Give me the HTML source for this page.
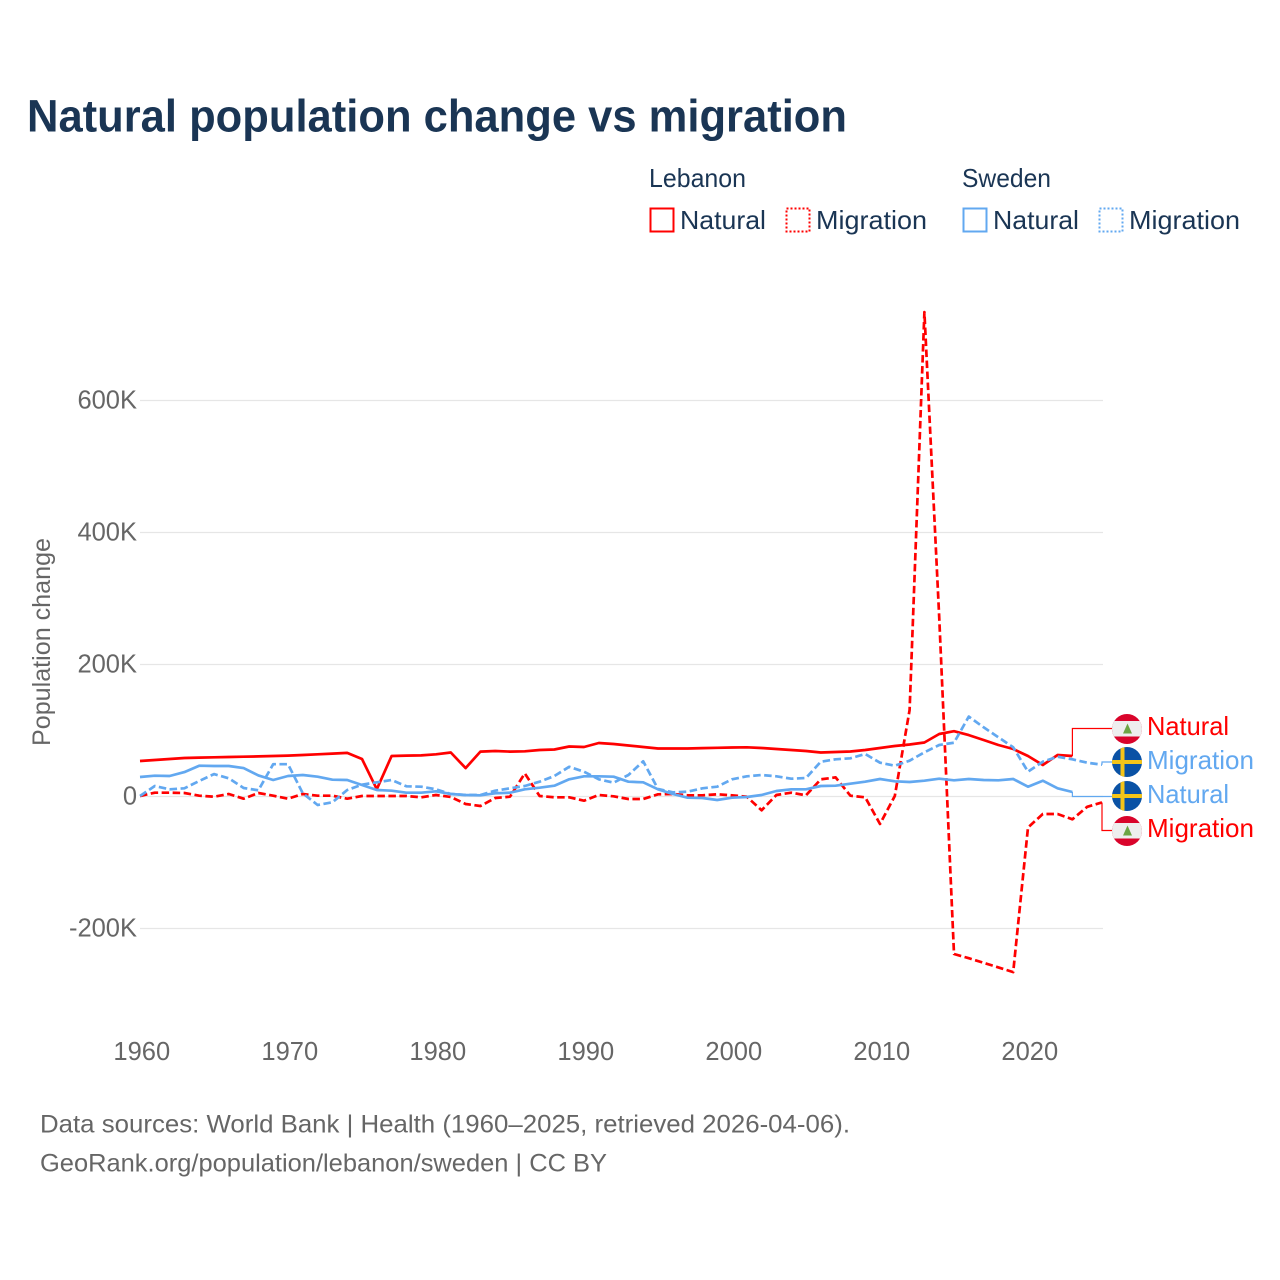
<!DOCTYPE html>
<html>
<head>
<meta charset="utf-8">
<title>Natural population change vs migration</title>
<style>
html,body{margin:0;padding:0;background:#fff;width:1280px;height:1280px;overflow:hidden}
svg{display:block}
text{font-family:"Liberation Sans",sans-serif}
</style>
</head>
<body>
<svg id="chart" xmlns="http://www.w3.org/2000/svg" width="1280" height="1280" viewBox="0 0 1280 1280">
<defs>
<clipPath id="clip-leb-1"><circle cx="1127" cy="729" r="15"/></clipPath>
<clipPath id="clip-swe-1"><circle cx="1127" cy="762" r="15"/></clipPath>
<clipPath id="clip-swe-2"><circle cx="1127" cy="796" r="15"/></clipPath>
<clipPath id="clip-leb-2"><circle cx="1127" cy="831" r="15"/></clipPath>
</defs>
<rect width="1280" height="1280" fill="#fff"/>
<text x="27" y="131.5" font-size="45" font-weight="700" fill="#1a3554" textLength="820" lengthAdjust="spacingAndGlyphs">Natural population change vs migration</text>

<g font-size="26" fill="#1a3554">
<text x="649" y="187" textLength="97" lengthAdjust="spacingAndGlyphs">Lebanon</text>
<text x="962" y="187" textLength="89" lengthAdjust="spacingAndGlyphs">Sweden</text>
<rect x="650.5" y="208.5" width="23" height="23" fill="none" stroke="#ff0000" stroke-width="2"/>
<text x="680" y="229" textLength="86" lengthAdjust="spacingAndGlyphs">Natural</text>
<rect x="786.5" y="208.5" width="23" height="23" fill="none" stroke="#ff0000" stroke-width="2" stroke-dasharray="2 2"/>
<text x="816" y="229" textLength="111" lengthAdjust="spacingAndGlyphs">Migration</text>
<rect x="963.5" y="208.5" width="23" height="23" fill="none" stroke="#62a8f0" stroke-width="2"/>
<text x="993" y="229" textLength="86" lengthAdjust="spacingAndGlyphs">Natural</text>
<rect x="1099.5" y="208.5" width="23" height="23" fill="none" stroke="#62a8f0" stroke-width="2" stroke-dasharray="2 2"/>
<text x="1129" y="229" textLength="111" lengthAdjust="spacingAndGlyphs">Migration</text>
</g>

<g id="grid"></g>
<g id="yticks"></g>
<g id="xticks"></g>
<text transform="translate(50,642) rotate(-90)" text-anchor="middle" font-size="25" fill="#666" textLength="208" lengthAdjust="spacingAndGlyphs">Population change</text>
<g id="leaders"></g>
<g id="series"></g>

<g clip-path="url(#clip-leb-1)">
<rect x="1112" y="714" width="30" height="30" fill="#d9042b"/><rect x="1112" y="721" width="30" height="15.5" fill="#eeeeee"/><path d="M1127.5 723.5l4.5 10h-9z" fill="#6da544"/>
</g>
<g clip-path="url(#clip-swe-1)">
<rect x="1112" y="747" width="30" height="30" fill="#0a52a5"/><rect x="1120.5" y="747" width="4" height="30" fill="#f5c518"/><rect x="1112" y="760" width="30" height="4" fill="#f5c518"/>
</g>
<g clip-path="url(#clip-swe-2)">
<rect x="1112" y="781" width="30" height="30" fill="#0a52a5"/><rect x="1120.5" y="781" width="4" height="30" fill="#f5c518"/><rect x="1112" y="794" width="30" height="4" fill="#f5c518"/>
</g>
<g clip-path="url(#clip-leb-2)">
<rect x="1112" y="816" width="30" height="30" fill="#d9042b"/><rect x="1112" y="823" width="30" height="15.5" fill="#eeeeee"/><path d="M1127.5 825.5l4.5 10h-9z" fill="#6da544"/>
</g>

<text x="1147" y="735" font-size="26" fill="#ff0000" textLength="82" lengthAdjust="spacingAndGlyphs">Natural</text>
<text x="1147" y="769" font-size="26" fill="#62a8f0" textLength="107" lengthAdjust="spacingAndGlyphs">Migration</text>
<text x="1147" y="803" font-size="26" fill="#62a8f0" textLength="82" lengthAdjust="spacingAndGlyphs">Natural</text>
<text x="1147" y="837" font-size="26" fill="#ff0000" textLength="107" lengthAdjust="spacingAndGlyphs">Migration</text>

<text x="40" y="1132.5" font-size="25" fill="#666" textLength="810" lengthAdjust="spacingAndGlyphs">Data sources: World Bank | Health (1960–2025, retrieved 2026-04-06).</text>
<text x="40" y="1171.5" font-size="25" fill="#666" textLength="567" lengthAdjust="spacingAndGlyphs">GeoRank.org/population/lebanon/sweden | CC BY</text>
</svg>
<script>
const startYear = 1960;
const xTickYears = [1960, 1970, 1980, 1990, 2000, 2010, 2020];
const yTickValues = [-200, 0, 200, 400, 600];
const yTickLabels = ['-200K', '0', '200K', '400K', '600K'];
const lebanonNatural = [53.8,55.3,56.8,58.3,59,59.4,59.8,60.3,60.8,61.4,62,62.9,64,65,66,56.8,11,61.4,62,62.2,64,66.7,43,68,68.9,68,68.5,70.5,71.2,75.8,75,81,79.5,77.3,75,72.7,72.7,72.7,73.4,73.8,74.2,74.5,73.5,72,70.5,69,66.7,67.4,68.2,70.5,73.5,76.5,78.8,81.8,94.7,99,93,85.6,78,72,61.4,47.7,62.9,61.4];
const lebanonMigration = [0.8,5.8,5.8,5.3,1.2,-0.3,3.8,-3.3,5.3,1.2,-3.3,3.8,1.2,1.2,-3.3,0.8,0.8,0.8,0.8,-1.2,2.3,-0.8,-11.4,-14.4,-2.3,-0.3,35,0.8,-1.2,-1.2,-6.4,2.3,0.3,-3.8,-3.8,3.3,3.8,1.8,1.8,3.3,1.8,-0.3,-20.9,2.3,5.8,1.8,26,29,1.2,-1.2,-41.7,0.8,131,734,272,-238.6,-245,-252,-259,-266,-47,-26.5,-26.5,-34.5,-15.6,-9];
const swedenNatural = [29.5,31.5,31,37,46.7,46.2,46.2,43,32,25,31,32.6,30,25.5,25,17.4,9.8,8.8,5.8,5.8,7.9,3.8,2.3,1.8,4.8,5.8,10.9,13.3,16.4,26,30.6,30.6,30,22.4,21.5,10.9,3.8,-1.8,-2.3,-5.3,-1.8,-0.8,2.3,8.3,10.9,10.9,15.9,16.4,19.4,22.4,26.5,23,22,24,27,24.5,26.5,25,24.5,26.5,14.8,24,12.4,6.8];
const swedenMigration = [0.8,15.9,10.9,12.4,23.5,34,27.6,12.9,9.4,49,49,4.8,-12.9,-8.8,9.8,17.9,21.5,25,15.5,14.8,10.9,3.8,2.3,2.3,8.8,12.4,15.9,22.4,31,45,37.6,26,20.9,32.6,53.3,11.4,6.4,7.3,12.4,14.8,26,30.6,32.6,30.6,27,28,52.7,56.4,57.9,64.4,51.2,46.7,54.2,67,78,81.5,121,104.8,89.7,74.5,37.6,52.7,60.3,56.4,51.2,48.2];

const SVGNS = 'http://www.w3.org/2000/svg';
const RED = '#ff0000';
const BLUE = '#62a8f0';
function xScale(year) { return 140 + (year - startYear) * 14.8; }
function yScale(value) { return 796.5 - value * 0.66; }
function linePath(values) {
  return values.map(function (v, i) {
    return (i ? 'L' : 'M') + xScale(startYear + i).toFixed(1) + ' ' + yScale(v).toFixed(1);
  }).join('');
}

const gridGroup = document.getElementById('grid');
const yGroup = document.getElementById('yticks');
yTickValues.forEach(function (v, i) {
  const ln = document.createElementNS(SVGNS, 'line');
  
  
  ln.setAttribute('x1', 140);
  ln.setAttribute('x2', 1103);
  ln.setAttribute('y1', yScale(v));
  ln.setAttribute('y2', yScale(v));
  ln.setAttribute('stroke', '#e6e6e6');
  ln.setAttribute('stroke-width', '1.2');
  gridGroup.appendChild(ln);
  const t = document.createElementNS(SVGNS, 'text');
  
  
  t.setAttribute('x', 137);
  t.setAttribute('y', yScale(v) + 8);
  t.setAttribute('text-anchor', 'end');
  t.setAttribute('font-size', '25.5');
  t.setAttribute('fill', '#666');
  t.textContent = yTickLabels[i];
  yGroup.appendChild(t);
});

const xGroup = document.getElementById('xticks');
xTickYears.forEach(function (yr) {
  const t = document.createElementNS(SVGNS, 'text');
  
  
  t.setAttribute('x', xScale(yr) + 1.8);
  t.setAttribute('y', 1060);
  t.setAttribute('text-anchor', 'middle');
  t.setAttribute('font-size', '25.5');
  t.setAttribute('fill', '#666');
  t.textContent = String(yr);
  xGroup.appendChild(t);
});

function drawLeader(values, color, endY, name) {
  const lastX = xScale(startYear + values.length - 1);
  const lastY = yScale(values[values.length - 1]);
  const p = document.createElementNS(SVGNS, 'path');
  
  
  p.setAttribute('d', 'M' + lastX + ' ' + lastY + 'V' + endY + 'H1112');
  p.setAttribute('fill', 'none');
  p.setAttribute('stroke', color);
  p.setAttribute('stroke-width', '1.2');
  document.getElementById('leaders').appendChild(p);
}
drawLeader(lebanonNatural, RED, 728.5, 'leader-lebanon-natural');
drawLeader(swedenMigration, BLUE, 762, 'leader-sweden-migration');
drawLeader(swedenNatural, BLUE, 796.5, 'leader-sweden-natural');
drawLeader(lebanonMigration, RED, 830.5, 'leader-lebanon-migration');

function drawSeries(values, color, dashed, name) {
  const p = document.createElementNS(SVGNS, 'path');
  
  
  p.setAttribute('d', linePath(values));
  p.setAttribute('fill', 'none');
  p.setAttribute('stroke', color);
  p.setAttribute('stroke-width', '2.7');
  p.setAttribute('stroke-linejoin', 'round');
  if (dashed) p.setAttribute('stroke-dasharray', '7.5 3.5');
  document.getElementById('series').appendChild(p);
}
drawSeries(lebanonNatural, RED, false, 'line-lebanon-natural');
drawSeries(lebanonMigration, RED, true, 'line-lebanon-migration');
drawSeries(swedenNatural, BLUE, false, 'line-sweden-natural');
drawSeries(swedenMigration, BLUE, true, 'line-sweden-migration');
</script>
</body>
</html>
